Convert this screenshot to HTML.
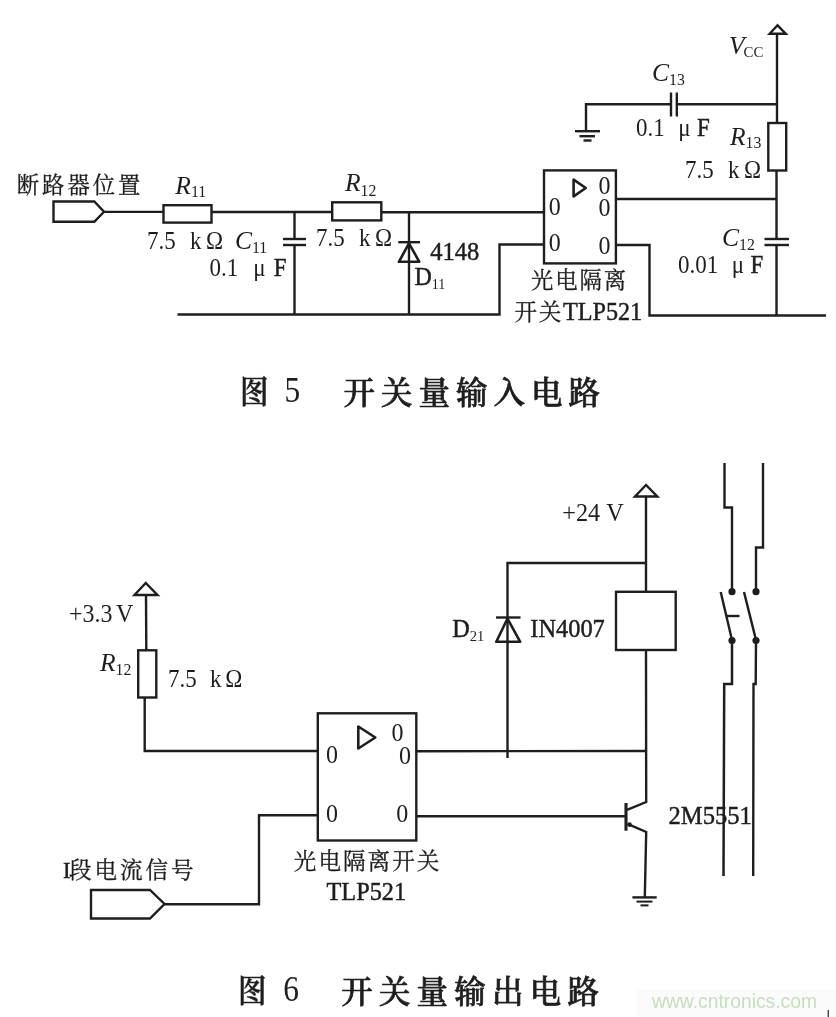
<!DOCTYPE html>
<html lang="zh">
<head>
<meta charset="utf-8">
<title>图5 开关量输入电路 / 图6 开关量输出电路</title>
<style>
html,body{margin:0;padding:0;background:#fff;}
body{width:836px;height:1017px;overflow:hidden;}
svg{display:block;will-change:transform;filter:blur(0.4px);}
#wires *{stroke:#1e1e1e;fill:none;stroke-linecap:butt;stroke-linejoin:miter;}
#wires .dot{fill:#1e1e1e;stroke:none;}
text{font-family:"Liberation Serif","Noto Serif CJK SC",serif;fill:#1e1e1e;}
.hv{stroke:#1e1e1e;stroke-width:0.45px;}
.cj{stroke:#1e1e1e;stroke-width:0.3px;}
.ls{letter-spacing:0.5px;}
.ls2{letter-spacing:1.3px;}
.ls3{letter-spacing:1.9px;}
.ls5{letter-spacing:2px;}
.ls7{letter-spacing:2.9px;}
.ls6{letter-spacing:2.9px;}
.ls6 .hv{letter-spacing:0;}
.ls4{letter-spacing:1.6px;}
.ls4 .hv{letter-spacing:0;}
text.cap{font-weight:600;stroke:#1e1e1e;stroke-width:0.4px;}
text.cap2{font-weight:500;stroke:#1e1e1e;stroke-width:0.75px;}
.capn{font-weight:400;}
text.wm{font-family:"Liberation Sans",sans-serif;fill:#c5dfbd;}
</style>
</head>
<body>
<svg width="836" height="1017" viewBox="0 0 836 1017">
<rect x="0" y="0" width="836" height="1017" fill="#ffffff"/>
<rect x="637" y="989" width="199" height="28" fill="#fbfbfb"/>
<g id="wires">
<polygon points="53.5,201.5 94.3,201.5 104,211.8 94.3,221.8 53.5,221.8" stroke-width="2.4"/>
<line x1="104" y1="211.9" x2="163.5" y2="211.9" stroke-width="2.4"/>
<rect x="163.5" y="205.2" width="48.0" height="17.4" stroke-width="2.4"/>
<line x1="211.5" y1="212" x2="332.2" y2="212" stroke-width="2.4"/>
<rect x="332.2" y="202.3" width="49.1" height="18.1" stroke-width="2.4"/>
<line x1="381.3" y1="212.3" x2="544" y2="212.3" stroke-width="2.4"/>
<line x1="294.5" y1="212" x2="294.5" y2="239" stroke-width="2.4"/>
<line x1="283" y1="239" x2="306" y2="239" stroke-width="2.4"/>
<line x1="283" y1="245" x2="306" y2="245" stroke-width="2.4"/>
<line x1="294.5" y1="245" x2="294.5" y2="314.5" stroke-width="2.4"/>
<line x1="409" y1="212" x2="409" y2="314.5" stroke-width="2.4"/>
<line x1="398.3" y1="242.2" x2="420" y2="242.2" stroke-width="2.4"/>
<polygon points="409,243.3 398.9,261.8 419.3,261.8" stroke-width="2.6" style="stroke-linejoin:round"/>
<polyline points="177.5,314.5 499.5,314.5 499.5,244.5 544,244.5" stroke-width="2.4"/>
<rect x="544" y="170.4" width="71.9" height="93.0" stroke-width="2.4"/>
<polygon points="573.6,179.6 573.6,196.4 585.8,188" stroke-width="2.6" style="stroke-linejoin:round"/>
<line x1="615.9" y1="199" x2="776.5" y2="199" stroke-width="2.4"/>
<polyline points="615.9,245 649.5,245 649.5,315.5 826,315.5" stroke-width="2.4"/>
<polygon points="777.5,25.3 769.7,33.7 785.8,33.7" stroke-width="2.4"/>
<line x1="777" y1="34" x2="777" y2="122.5" stroke-width="2.4"/>
<rect x="768.3" y="123" width="17.9" height="47.5" stroke-width="2.4"/>
<line x1="776.5" y1="170" x2="776.5" y2="239" stroke-width="2.4"/>
<line x1="764.5" y1="239" x2="789" y2="239" stroke-width="2.4"/>
<line x1="764.5" y1="245" x2="789" y2="245" stroke-width="2.4"/>
<line x1="776.5" y1="245" x2="776.5" y2="315.5" stroke-width="2.4"/>
<polyline points="586,131 586,104.2 671,104.2" stroke-width="2.4"/>
<line x1="671" y1="92.5" x2="671" y2="116.5" stroke-width="2.4"/>
<line x1="676.8" y1="92.5" x2="676.8" y2="116.5" stroke-width="2.4"/>
<line x1="676.8" y1="104.2" x2="777" y2="104.2" stroke-width="2.4"/>
<line x1="575" y1="131.2" x2="600" y2="131.2" stroke-width="2.4"/>
<line x1="579.5" y1="136.2" x2="595" y2="136.2" stroke-width="2.4"/>
<line x1="583.5" y1="140.5" x2="591.5" y2="140.5" stroke-width="2.4"/>
<polygon points="145.7,583 134.5,595 157.5,595" stroke-width="2.4"/>
<line x1="146" y1="595" x2="146.3" y2="650.3" stroke-width="2.4"/>
<rect x="138.2" y="650.3" width="18.1" height="47.2" stroke-width="2.4"/>
<polyline points="144.7,697.5 144.7,751 317.8,751" stroke-width="2.4"/>
<rect x="317.8" y="713.3" width="98.5" height="127.2" stroke-width="2.4"/>
<polygon points="358.3,726.5 358.3,748.5 375.3,737.5" stroke-width="2.6" style="stroke-linejoin:round"/>
<polygon points="91,890 150,890 164.5,904 150,918.5 91,918.5" stroke-width="2.4"/>
<polyline points="164.5,904.2 259,904.2 259,815.2 317.8,815.2" stroke-width="2.4"/>
<line x1="416.3" y1="751.2" x2="646" y2="751" stroke-width="2.4"/>
<line x1="416.3" y1="816.2" x2="626" y2="816.2" stroke-width="2.4"/>
<polyline points="646,563 507.5,563 507.5,758" stroke-width="2.4"/>
<line x1="496" y1="617.5" x2="520.5" y2="617.5" stroke-width="2.4"/>
<polygon points="507.5,618.5 496.3,641.8 520.2,641.8" stroke-width="2.6" style="stroke-linejoin:round"/>
<polygon points="646,485 635,496.5 657.3,496.5" stroke-width="2.4"/>
<line x1="646" y1="496.5" x2="646" y2="591.8" stroke-width="2.4"/>
<rect x="616" y="591.8" width="59.7" height="58.2" stroke-width="2.4"/>
<polyline points="646,650 646.2,802 627,809.8" stroke-width="2.4"/>
<line x1="626" y1="803" x2="626" y2="830.7" stroke-width="3.1"/>
<polyline points="628,824.2 646.2,832 644.8,897.4" stroke-width="2.4"/>
<line x1="632.4" y1="897.4" x2="656.7" y2="897.4" stroke-width="2.4"/>
<line x1="636.5" y1="901.6" x2="652.5" y2="901.6" stroke-width="2.0"/>
<line x1="640.5" y1="905.4" x2="648.5" y2="905.4" stroke-width="2.0"/>
<circle cx="629.5" cy="824.6" r="2.3" class="dot"/>
<polyline points="724.5,463 724.5,507.5 732,507.5 732,591" stroke-width="2.4"/>
<polyline points="763,463 763,547.5 756,547.5 756,591" stroke-width="2.4"/>
<circle cx="732" cy="591.7" r="3.6" class="dot"/>
<circle cx="756" cy="591.7" r="3.6" class="dot"/>
<circle cx="732" cy="640.5" r="3.6" class="dot"/>
<circle cx="756" cy="640.5" r="3.6" class="dot"/>
<line x1="720.7" y1="592" x2="732" y2="640" stroke-width="2.4"/>
<line x1="744" y1="592" x2="756" y2="640" stroke-width="2.4"/>
<line x1="727" y1="616" x2="739.5" y2="616" stroke-width="2.4"/>
<polyline points="732,640 732,684 724.2,684 723.5,876" stroke-width="2.5"/>
<polyline points="756,640 755.7,684 753.5,684 753.2,876" stroke-width="2.4"/>
</g>
<g id="labels">
<text x="16.8" y="193.2" font-size="22.4" class="cj ls7">断路器位置</text>
<text x="175.3" y="193.9" font-size="25.5"><tspan font-style="italic">R</tspan><tspan font-size="15.8" dy="3.5">11</tspan></text>
<text transform="translate(147 249.2) scale(1.0 1.08)" font-size="23">7.5<tspan dx="14.3">k</tspan><tspan dx="4.6">Ω</tspan></text>
<text x="235" y="249.2" font-size="25.5"><tspan font-style="italic">C</tspan><tspan font-size="15.8" dy="3.5">11</tspan></text>
<text transform="translate(209.5 275.6) scale(1.0 1.08)" font-size="23">0.1<tspan dx="15">μ</tspan><tspan dx="8.3" class="hv">F</tspan></text>
<text x="345" y="191" font-size="25.5"><tspan font-style="italic">R</tspan><tspan font-size="15.8" dy="4.5">12</tspan></text>
<text transform="translate(316 245.8) scale(1.0 1.08)" font-size="23">7.5<tspan dx="14.3">k</tspan><tspan dx="4.6">Ω</tspan></text>
<text x="430.3" y="259.8" font-size="24.5" class="hv">4148</text>
<text transform="translate(414.5 285) scale(1.0 1.04)" font-size="24"><tspan class="hv">D</tspan><tspan font-size="14" dy="3.37">11</tspan></text>
<text x="531" y="288" font-size="22.4" class="cj ls3">光电隔离</text>
<text x="514.5" y="319.5" font-size="22.6" class="cj ls4">开关<tspan font-size="24.2" class="hv">TLP521</tspan></text>
<text transform="translate(598.5 193.8) scale(1.0 1.04)" font-size="24">0</text>
<text transform="translate(598.5 216.4) scale(1.0 1.04)" font-size="24">0</text>
<text transform="translate(548.8 214.7) scale(1.0 1.04)" font-size="24">0</text>
<text transform="translate(548.8 251.4) scale(1.0 1.04)" font-size="24">0</text>
<text transform="translate(598.5 253.8) scale(1.0 1.04)" font-size="24">0</text>
<text x="729" y="53.8" font-size="25.5"><tspan font-style="italic">V</tspan><tspan dx="-1" font-size="14.8" dy="3.0">CC</tspan></text>
<text x="652" y="81.3" font-size="25.5"><tspan font-style="italic">C</tspan><tspan font-size="15.8" dy="3.5">13</tspan></text>
<text transform="translate(636 136.4) scale(1.0 1.08)" font-size="23">0.1<tspan dx="13.5">μ</tspan><tspan dx="6.5" class="hv">F</tspan></text>
<text x="730" y="144.8" font-size="25.5"><tspan font-style="italic">R</tspan><tspan font-size="15.8" dy="3.5">13</tspan></text>
<text transform="translate(685 178.4) scale(1.0 1.08)" font-size="23">7.5<tspan dx="14.3">k</tspan><tspan dx="4.6">Ω</tspan></text>
<text x="722" y="246" font-size="25.5"><tspan font-style="italic">C</tspan><tspan font-size="15.8" dy="3.5">12</tspan></text>
<text transform="translate(678 272.5) scale(1.0 1.08)" font-size="23">0.01<tspan dx="13.5">μ</tspan><tspan dx="6.5" class="hv">F</tspan></text>
<text transform="translate(0 403.2) scale(1 1.13)" x="240" font-size="28.5" class="cap">图</text>
<text transform="translate(0 402.2) scale(1 1.13)" x="284.5" font-size="31.4" class="capn">5</text>
<text x="343.5 381.0 418.5 456.0 493.5 531.0 568.5" y="403.6" font-size="31.5" class="cap2">开关量输入电路</text>
<text transform="translate(69 621.8) scale(1.0 1.05)" font-size="24">+3.3<tspan dx="3.5">V</tspan></text>
<text x="100" y="671.3" font-size="25.5"><tspan font-style="italic">R</tspan><tspan font-size="15.8" dy="3.5">12</tspan></text>
<text transform="translate(168 687.2) scale(1.0 1.08)" font-size="23">7.5<tspan dx="13.3">k</tspan><tspan dx="3.8">Ω</tspan></text>
<text x="562.2" y="521" font-size="24.3">+24&#160;V</text>
<text x="452.3" y="636.7" font-size="24.2"><tspan class="hv">D</tspan><tspan font-size="14.5" dy="4.0">21</tspan></text>
<text x="530.3" y="636.8" font-size="24.4" class="hv">IN4007</text>
<text x="668.5" y="823.8" font-size="24.6" class="hv">2M5551</text>
<text transform="translate(391.5 741.4) scale(1.0 1.04)" font-size="24">0</text>
<text transform="translate(399 764.4) scale(1.0 1.04)" font-size="24">0</text>
<text transform="translate(326 762.7) scale(1.0 1.04)" font-size="24">0</text>
<text transform="translate(326 822.3) scale(1.0 1.04)" font-size="24">0</text>
<text transform="translate(396.3 822.3) scale(1.0 1.04)" font-size="24">0</text>
<text x="293.8" y="869" font-size="22.6" class="cj ls5">光电隔离开关</text>
<text x="326.5" y="900" font-size="24.3" class="hv">TLP521</text>
<text x="63" y="877.5" font-size="22.6" class="cj ls6"><tspan class="hv">I</tspan><tspan dx="-1.5">段电流信号</tspan></text>
<text transform="translate(0 1002.3) scale(1 1.13)" x="238" font-size="28.5" class="cap">图</text>
<text transform="translate(0 1000.7) scale(1 1.13)" x="283.2" font-size="31.4" class="capn">6</text>
<text x="341.2 378.9 416.6 454.3 492.0 529.7 567.4" y="1002.8" font-size="31.5" class="cap2">开关量输出电路</text>
<text x="652" y="1008" font-size="19.3" class="wm">www.cntronics.com</text>
</g>
<rect x="827.6" y="1010" width="1.4" height="7" fill="#444"/>
</svg>
</body>
</html>
